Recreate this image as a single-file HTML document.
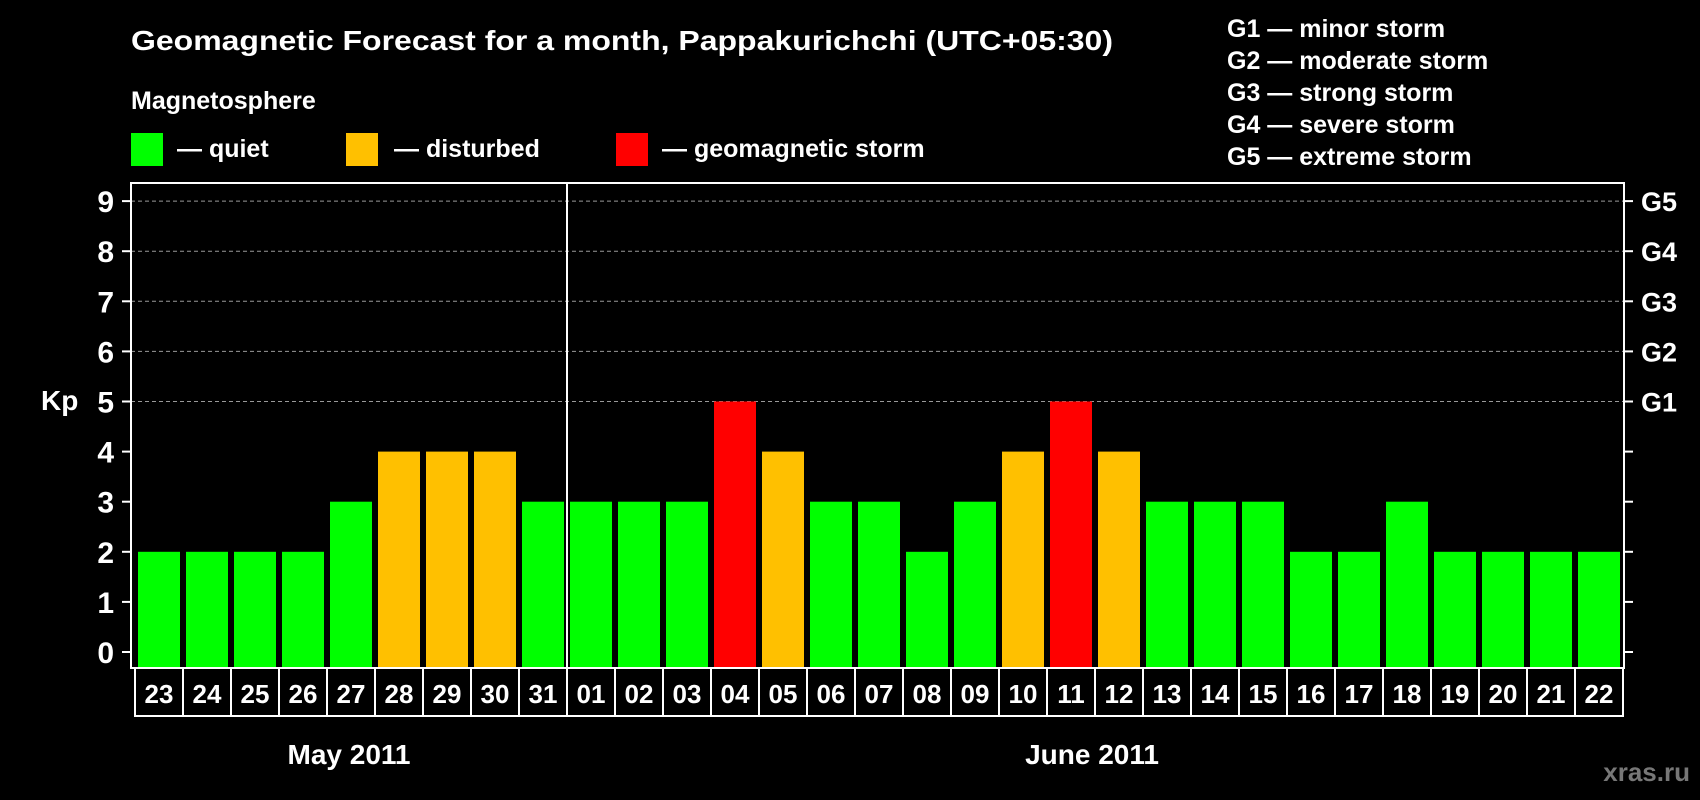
<!DOCTYPE html>
<html><head><meta charset="utf-8"><style>
html,body{margin:0;padding:0;background:#000;}
svg{display:block;font-family:"Liberation Sans",Arial,sans-serif;font-weight:bold;}
</style></head><body>
<svg id="chart" width="1700" height="800" viewBox="0 0 1700 800" xmlns="http://www.w3.org/2000/svg">
<rect width="1700" height="800" fill="#000"/>
<text x="131" y="50" fill="#fff" font-size="28" textLength="982" lengthAdjust="spacingAndGlyphs">Geomagnetic Forecast for a month, Pappakurichchi (UTC+05:30)</text>
<text x="131" y="109" fill="#fff" font-size="25">Magnetosphere</text>
<g><rect x="131" y="133" width="32" height="33" fill="#00ff00"/><text x="177" y="157" fill="#fff" font-size="25">— quiet</text></g>
<g><rect x="346" y="133" width="32" height="33" fill="#ffc000"/><text x="394" y="157" fill="#fff" font-size="25">— disturbed</text></g>
<g><rect x="616" y="133" width="32" height="33" fill="#ff0000"/><text x="662" y="157" fill="#fff" font-size="25">— geomagnetic storm</text></g>
<g font-size="25" fill="#fff">
<text x="1227" y="37">G1 — minor storm</text>
<text x="1227" y="69">G2 — moderate storm</text>
<text x="1227" y="101">G3 — strong storm</text>
<text x="1227" y="133">G4 — severe storm</text>
<text x="1227" y="165">G5 — extreme storm</text>
</g>
<text x="41" y="410" fill="#fff" font-size="28">Kp</text>
<text x="349" y="764" fill="#fff" font-size="28" text-anchor="middle">May 2011</text>
<text x="1092" y="764" fill="#fff" font-size="28" text-anchor="middle">June 2011</text>
<text x="1690" y="781" fill="#777" font-size="26" text-anchor="end">xras.ru</text>
<g id="plot"></g>
</svg>
<script>
const days = ["23","24","25","26","27","28","29","30","31","01","02","03","04","05","06","07","08","09","10","11","12","13","14","15","16","17","18","19","20","21","22"];
const kpValues = [2,2,2,2,3,4,4,4,3,3,3,3,5,4,3,3,2,3,4,5,4,3,3,3,2,2,3,2,2,2,2];
const yTicks = [0,1,2,3,4,5,6,7,8,9];
const gLabels = ["G1","G2","G3","G4","G5"];
const gLevels = [5,6,7,8,9];
const monthSplitIndex = 9;

const NS = "http://www.w3.org/2000/svg";
const plot = document.getElementById("plot");
const L = 131, R = 1624, T = 183, B = 668;
const barX0 = 138, pitch = 48, barW = 42;
function yScale(v){ return 652 - 50.1 * v; }
function xScale(i){ return barX0 + pitch * i; }
function mk(tag, attrs){ const e = document.createElementNS(NS, tag); for (const k in attrs) e.setAttribute(k, attrs[k]); plot.appendChild(e); return e; }
function color(v){ return v >= 5 ? "#ff0000" : (v >= 4 ? "#ffc000" : "#00ff00"); }

// grid lines
gLevels.forEach(v => {
  const g = mk("line", {x1: L, x2: R, y1: yScale(v), y2: yScale(v), stroke: "#999", "stroke-width": 1, "stroke-dasharray": "4 3"});
  
  
});
// bars
kpValues.forEach((v, i) => {
  const b = mk("rect", {x: xScale(i), y: yScale(v), width: barW, height: B - yScale(v), fill: color(v)});
  
  
  const box = mk("rect", {x: xScale(i) - 3, y: B, width: pitch, height: 48, fill: "none", stroke: "#fff", "stroke-width": 2});
  
  
  const t = mk("text", {x: xScale(i) + barW / 2, y: B + 35, fill: "#fff", "font-size": 26, "text-anchor": "middle"});
  t.textContent = days[i];
  
  
});
// frame
const frame = mk("rect", {x: L, y: T, width: R - L, height: B - T, fill: "none", stroke: "#fff", "stroke-width": 2});


const divX = xScale(monthSplitIndex) - 3;
const div = mk("line", {x1: divX, x2: divX, y1: T, y2: B + 48, stroke: "#fff", "stroke-width": 2});


// y ticks
yTicks.forEach(v => {
  const tk = mk("line", {x1: L - 9, x2: L, y1: yScale(v), y2: yScale(v), stroke: "#fff", "stroke-width": 2});
  
  
  const rt = mk("line", {x1: R, x2: R + 9, y1: yScale(v), y2: yScale(v), stroke: "#fff", "stroke-width": 2});
  
  
  const lb = mk("text", {x: 114, y: yScale(v) + 11, fill: "#fff", "font-size": 30, "text-anchor": "end"});
  lb.textContent = v;
  
  
});
gLabels.forEach((g, i) => {
  const t = mk("text", {x: 1641, y: yScale(gLevels[i]) + 10, fill: "#fff", "font-size": 27});
  t.textContent = g;
  
  
});
</script>
</body></html>
